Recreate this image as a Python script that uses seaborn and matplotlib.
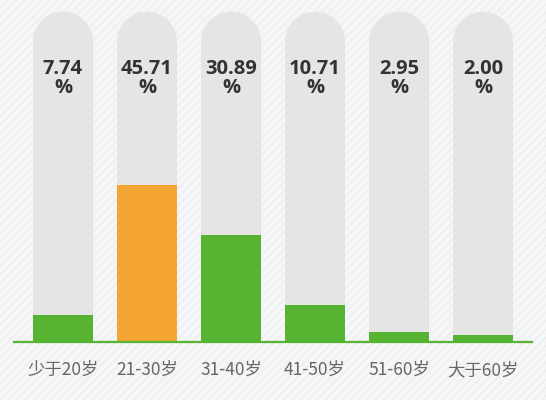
import matplotlib
matplotlib.use("Agg")
import matplotlib.pyplot as plt
from matplotlib.patches import Ellipse, Rectangle
import seaborn as sns
import pandas as pd

# age groups and share of users (%)
age_groups = ["少于20岁", "21-30岁", "31-40岁", "41-50岁", "51-60岁", "大于60岁"]
shares = [7.74, 45.71, 30.89, 10.71, 2.95, 2.00]
highlight = "21-30岁"

green = "#56b432"
orange = "#f5a533"
track = "#e5e5e5"

sns.set_style("white")
plt.rcParams["font.family"] = ["Noto Sans CJK SC", "DejaVu Sans"]
plt.rcParams["hatch.linewidth"] = 0.8

df = pd.DataFrame({"age": age_groups, "share": shares})
palette = {a: (orange if a == highlight else green) for a in age_groups}

fig = plt.figure(figsize=(5.46, 4), dpi=100)
fig.patch.set_facecolor("#f5f6f7")
# faint diagonal stripes in the background
fig.patches.append(Rectangle((0, 0), 1, 1, transform=fig.transFigure,
                             facecolor="none", edgecolor="#eaecee",
                             hatch="////", linewidth=0, zorder=-5))

ax = fig.add_axes([14 / 546, 58.3 / 400, 518 / 546, 337 / 400])
ax.set_facecolor("none")

# rounded grey tracks behind each bar
track_top = 96
bar_w = 60 / 84
rx = bar_w / 2
ry = 30 / 3.44
for i in range(len(age_groups)):
    ax.add_patch(Rectangle((i - rx, 0), bar_w, track_top - ry,
                           facecolor=track, edgecolor="none", zorder=0))
    ax.add_patch(Ellipse((i, track_top - ry), 2 * rx, 2 * ry,
                         facecolor=track, edgecolor="none", zorder=0))

sns.barplot(data=df, x="age", y="share", hue="age", palette=palette,
            width=bar_w, legend=False, saturation=1, linewidth=0,
            ax=ax, zorder=2)

for i, v in enumerate(shares):
    ax.text(i, 76.6, f"{v:.2f}\n%", ha="center", va="center",
            fontsize=14.5, fontweight="bold", color="#333333",
            linespacing=0.9, family=["Open Sans", "DejaVu Sans"])

ax.set_xlim(-0.583, 5.583)
ax.set_ylim(0, 98)
ax.set_xlabel("")
ax.set_ylabel("")
ax.set_yticks([])
ax.tick_params(axis="x", length=0, pad=14, labelsize=12.5, labelcolor="#666666")
for s in ["top", "right", "left"]:
    ax.spines[s].set_visible(False)
ax.spines["bottom"].set_color(green)
ax.spines["bottom"].set_linewidth(1.6)
ax.spines["bottom"].set_zorder(3)

fig.savefig("out.png", dpi=100, facecolor=fig.get_facecolor())
